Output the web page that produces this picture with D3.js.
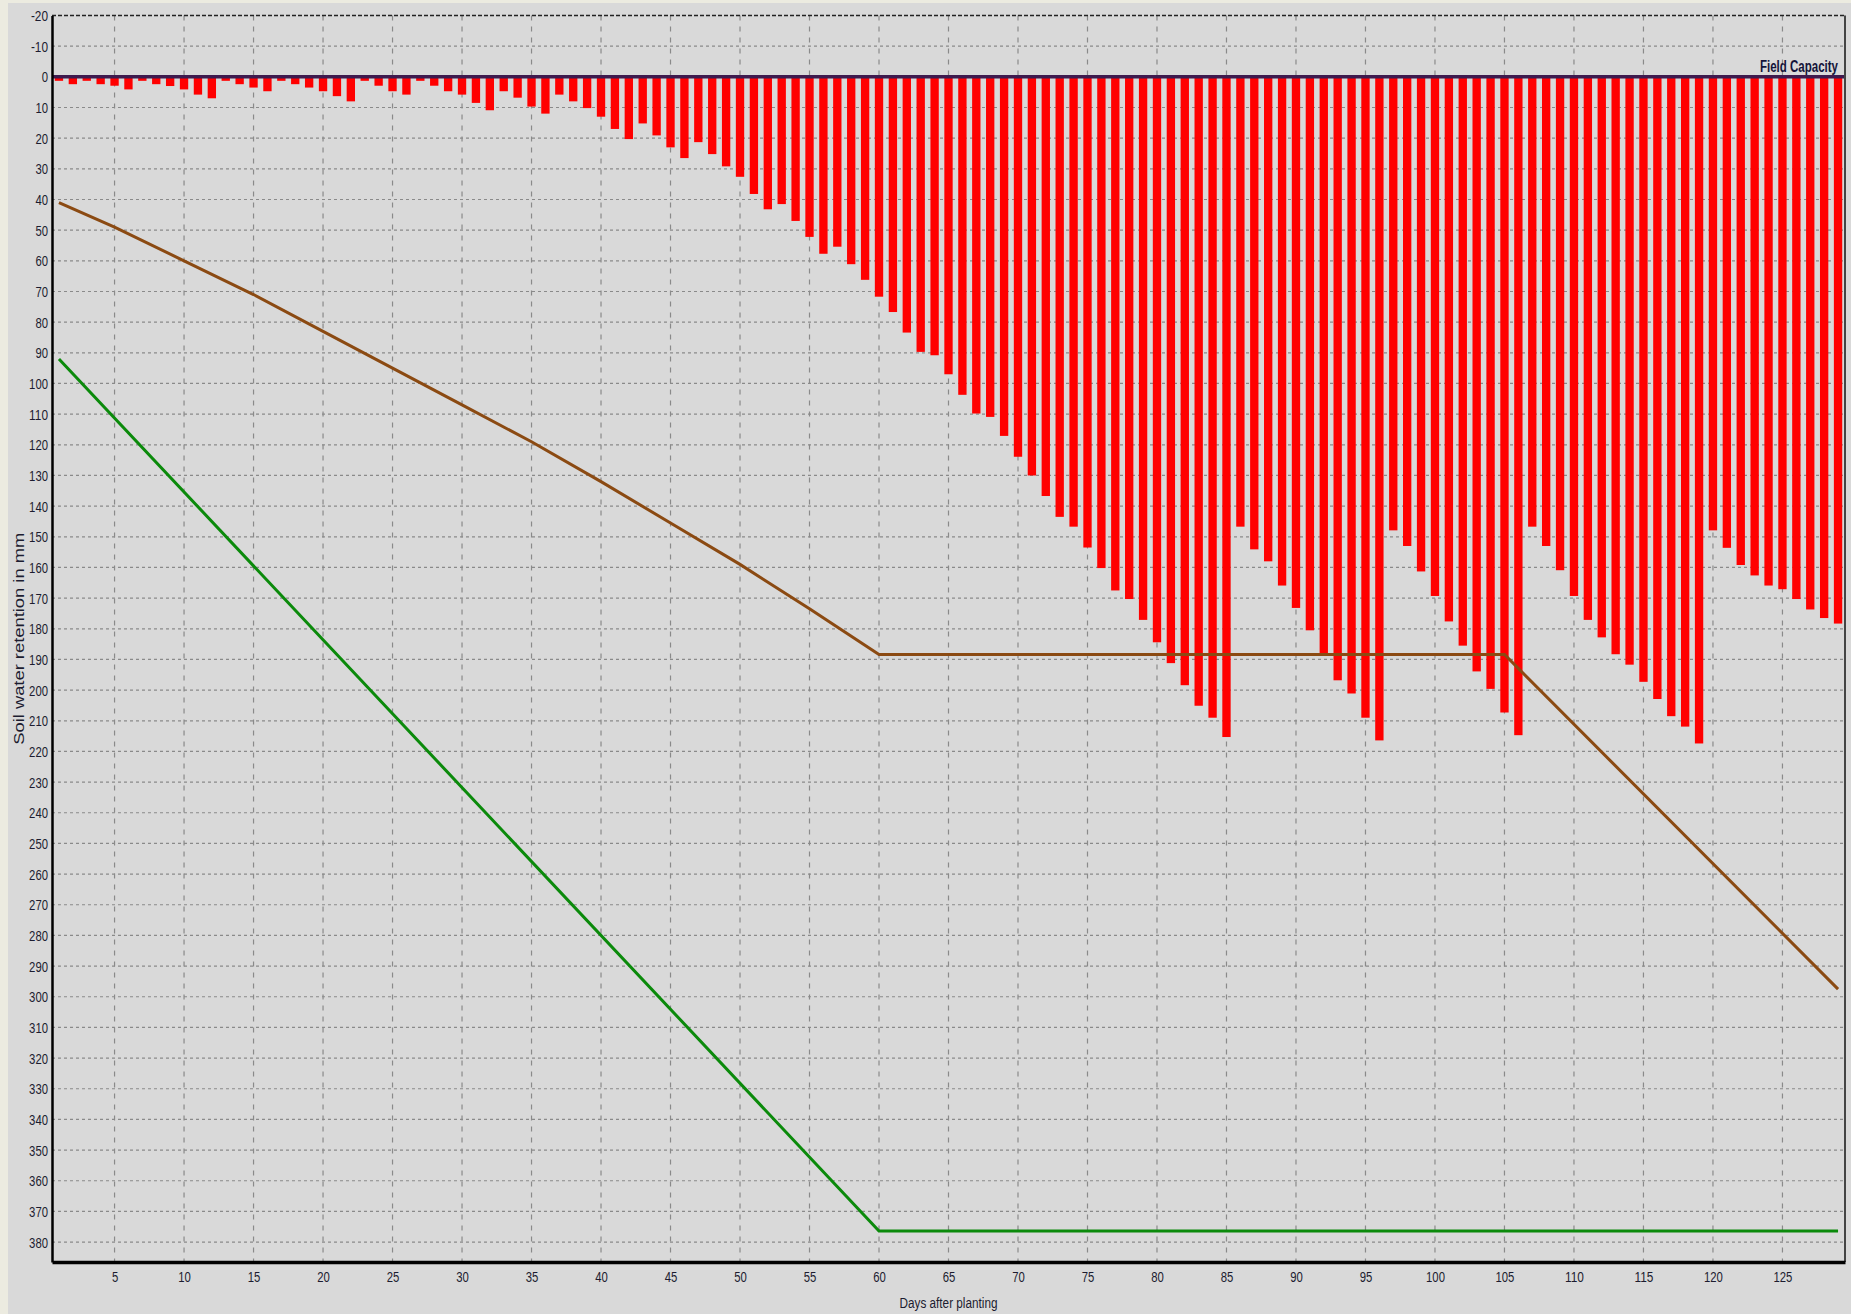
<!DOCTYPE html>
<html>
<head>
<meta charset="utf-8">
<script src="https://cdn.jsdelivr.net/npm/d3@7"></script>
<style>
  body { margin: 0; background: #ecebe0; }
  .chart text { font-family: 'Liberation Sans', Arial, sans-serif; }
</style>
</head>
<body>
<div class="chart"></div>
<script>
// days after planting (one bar per day)
const days = d3.range(1, 130)

// daily soil water deficit below field capacity (mm)
const deficit = [
    1.3, 2.4, 1.3, 2.4, 2.9, 4.1, 1.3, 2.4, 3.0, 4.1,
    5.8, 7.0, 1.3, 2.4, 3.5, 4.7, 1.3, 2.4, 3.5, 4.7,
    6.3, 8.0, 1.3, 2.9, 4.7, 5.8, 1.3, 2.9, 4.7, 5.8,
    8.5, 10.9, 4.7, 6.8, 9.7, 12.0, 5.8, 8.0, 10.2, 13.0,
    17.0, 20.3, 15.2, 19.1, 23.0, 26.5, 21.3, 25.2, 29.2, 32.6,
    38.2, 43.2, 41.5, 47.0, 52.2, 57.7, 55.4, 61.1, 66.2, 71.7,
    76.7, 83.4, 89.7, 90.8, 97.0, 103.7, 109.8, 110.9, 117.1, 123.9,
    130.0, 136.7, 143.5, 146.7, 153.5, 160.2, 167.5, 170.3, 177.1, 184.4,
    191.2, 198.4, 205.1, 209.0, 215.3, 146.7, 154.1, 158.0, 165.9, 173.2,
    180.5, 188.6, 196.8, 201.1, 209.0, 216.4, 147.9, 153.0, 161.3, 169.3,
    177.6, 185.5, 193.9, 199.6, 207.3, 214.7, 146.7, 153.0, 160.9, 169.3,
    177.1, 182.8, 188.3, 191.7, 197.3, 202.9, 208.5, 211.9, 217.4, 147.9,
    153.6, 159.2, 162.6, 165.9, 167.1, 170.3, 173.7, 176.5, 178.3
]

// readily available water threshold (brown)
const rawDays = [1, 5, 10, 15, 20, 25, 30, 35, 40, 45, 50, 55, 60, 105, 129]
const rawValues = [41, 49, 60, 71, 83, 95, 107, 119, 132, 145.5, 159, 173.5, 188.4, 188.4, 297.5]

// total available water (green)
const tawDays = [1, 60, 129]
const tawValues = [92, 376.4, 376.4]

const yTicks = d3.range(-20, 390, 10)
const xTicks = d3.range(5, 130, 5)

// narrow label width: ~6.3px per digit, ~4.5px for a minus
const labelWidth = (s) => s.replace('-', '').length * 6.3 + (s.includes('-') ? 4.5 : 0)

class SoilChart {

    constructor(options) {
        this.fullWidth = options.width
        this.fullHeight = options.height
        this.margin = { top: 15.5, right: 6, bottom: 52, left: 52 }
        this.width = this.fullWidth - this.margin.left - this.margin.right
        this.height = this.fullHeight - this.margin.top - this.margin.bottom
        this.textColour = '#1c1c30'
        this.gridColour = '#8a8a8a'
    }

    render() {
        this.canvas = this.createCanvas()
        this.prepareScales()
        this.createGrid()
        this.createBars()
        this.createLines()
        this.createFieldCapacity()
        this.createAxes()
    }

    createCanvas() {
        let svg = d3.select('.chart')
            .append('svg')
            .attr('width', this.fullWidth)
            .attr('height', this.fullHeight)
            .style('display', 'block')
        svg.append('rect')
            .attr('x', 8).attr('y', 3)
            .attr('width', this.fullWidth - 8)
            .attr('height', this.fullHeight - 3)
            .style('fill', '#d9d9d9')
        return svg.append('g')
            .attr('transform', `translate(${this.margin.left}, ${this.margin.top})`)
    }

    prepareScales() {
        this.xScale = d3.scaleLinear()
            .domain([0.5, 129.5])
            .range([0, this.width])
        this.yScale = d3.scaleLinear()
            .domain([-20, 386.5])
            .range([0, this.height])
    }

    createGrid() {
        let grid = this.canvas.append('g').attr('class', 'grid')
        grid.selectAll('.hgrid')
            .data(yTicks.filter(t => t > -20))
            .enter().append('line')
            .attr('x1', 0).attr('x2', this.width)
            .attr('y1', d => this.yScale(d)).attr('y2', d => this.yScale(d))
            .style('stroke', this.gridColour)
            .style('stroke-width', 1.2)
            .style('stroke-dasharray', '3,3')
        grid.selectAll('.vgrid')
            .data(xTicks)
            .enter().append('line')
            .attr('x1', d => this.xScale(d)).attr('x2', d => this.xScale(d))
            .attr('y1', 0).attr('y2', this.height)
            .style('stroke', this.gridColour)
            .style('stroke-width', 1.2)
            .style('stroke-dasharray', '5,6')
    }

    createBars() {
        let step = this.xScale(2) - this.xScale(1)
        let barWidth = step * 0.6
        this.canvas.append('g')
            .selectAll('rect')
            .data(days)
            .enter().append('rect')
            .attr('x', (d) => this.xScale(d) - barWidth / 2)
            .attr('y', this.yScale(0))
            .attr('width', barWidth)
            .attr('height', (d, i) => this.yScale(deficit[i]) - this.yScale(0))
            .style('fill', '#ff0000')
    }

    createLines() {
        let line = d3.line()
            .x(d => this.xScale(d[0]))
            .y(d => this.yScale(d[1]))
        this.canvas.append('path')
            .datum(tawDays.map((d, i) => [d, tawValues[i]]))
            .attr('d', line)
            .style('fill', 'none')
            .style('stroke', '#0b8a0b')
            .style('stroke-width', 3)
        this.canvas.append('path')
            .datum(rawDays.map((d, i) => [d, rawValues[i]]))
            .attr('d', line)
            .style('fill', 'none')
            .style('stroke', '#8b4a12')
            .style('stroke-width', 3)
    }

    createFieldCapacity() {
        let y0 = this.yScale(0)
        this.canvas.append('line')
            .attr('x1', 0).attr('x2', this.width)
            .attr('y1', y0).attr('y2', y0)
            .style('stroke', '#3e1a4e')
            .style('stroke-width', 3.5)
        this.canvas.append('text')
            .attr('x', this.width - 7)
            .attr('y', y0 - 5)
            .attr('text-anchor', 'end')
            .attr('textLength', 78)
            .attr('lengthAdjust', 'spacingAndGlyphs')
            .style('font-size', '16px')
            .style('font-weight', 'bold')
            .style('fill', '#14143a')
            .text('Field Capacity')
    }

    createAxes() {
        // borders
        this.canvas.append('line')
            .attr('x1', 0).attr('x2', this.width).attr('y1', 0).attr('y2', 0)
            .style('stroke', '#222').style('stroke-width', 1.5).style('stroke-dasharray', '4,2')
        this.canvas.append('line')
            .attr('x1', this.width).attr('x2', this.width).attr('y1', 0).attr('y2', this.height)
            .style('stroke', '#444').style('stroke-width', 2)

        let yAxis = d3.axisLeft(this.yScale)
            .tickValues(yTicks)
            .tickFormat(d => String(d))
            .tickSize(0)
            .tickPadding(4)
        let gY = this.canvas.append('g')
            .style('font-size', '15.5px')
            .call(yAxis)
        gY.select('.domain').style('stroke', '#000').style('stroke-width', 2.5)
        gY.selectAll('text')
            .style('fill', this.textColour)
            .style('font-family', null)
            .attr('textLength', function() { return labelWidth(this.textContent) })
            .attr('lengthAdjust', 'spacingAndGlyphs')

        let xAxis = d3.axisBottom(this.xScale)
            .tickValues(xTicks)
            .tickFormat(d => String(d))
            .tickSize(0)
            .tickPadding(9)
        let gX = this.canvas.append('g')
            .attr('transform', `translate(0, ${this.height})`)
            .style('font-size', '15.5px')
            .call(xAxis)
        gX.select('.domain').style('stroke', '#000').style('stroke-width', 3.5)
        gX.selectAll('text')
            .style('fill', this.textColour)
            .style('font-family', null)
            .attr('textLength', function() { return labelWidth(this.textContent) })
            .attr('lengthAdjust', 'spacingAndGlyphs')

        this.canvas.append('text')
            .attr('x', this.width / 2)
            .attr('y', this.height + 46)
            .attr('text-anchor', 'middle')
            .attr('textLength', 98)
            .attr('lengthAdjust', 'spacingAndGlyphs')
            .style('font-size', '15.5px')
            .style('fill', this.textColour)
            .text('Days after planting')

        this.canvas.append('text')
            .attr('transform', `translate(${-28}, ${this.height / 2}) rotate(-90)`)
            .attr('text-anchor', 'middle')
            .attr('textLength', 212)
            .attr('lengthAdjust', 'spacingAndGlyphs')
            .style('font-size', '14.5px')
            .style('fill', this.textColour)
            .text('Soil water retention in mm')
    }
}

new SoilChart({ width: 1851, height: 1314 }).render()
</script>
</body>
</html>
